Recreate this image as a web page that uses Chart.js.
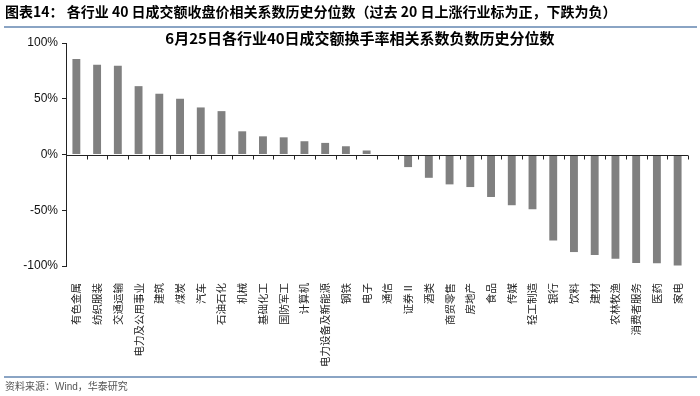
<!DOCTYPE html>
<html>
<head>
<meta charset="utf-8">
<script src="https://cdn.jsdelivr.net/npm/chart.js@4.4.1/dist/chart.umd.min.js"></script>
<style>
  html, body { margin:0; padding:0; background:#fff; }
  #wrap { position:relative; width:700px; height:396px; overflow:hidden; }
  #c { position:absolute; left:0; top:0; }
  .hdr { position:absolute; left:5px; top:2px; font-family:"Noto Sans CJK SC","Liberation Sans",sans-serif; font-weight:bold; font-size:14px; color:#000; white-space:nowrap; line-height:18px; }
  .line { position:absolute; left:4px; width:693px; height:2px; background:#8aa4c4; }
  .ttl { position:absolute; left:0; width:720px; top:29px; text-align:center; font-family:"Noto Sans CJK SC",sans-serif; font-weight:bold; font-size:15px; line-height:18px; color:#000; white-space:nowrap; }
  .src { position:absolute; left:5px; top:379px; font-family:"Noto Sans CJK SC","Liberation Sans",sans-serif; font-size:10px; color:#555; line-height:14px; white-space:nowrap; }
</style>
</head>
<body>
<div id="wrap">
  <canvas id="c" width="700" height="396"></canvas>
  <div class="hdr">图表14：&nbsp;各行业 40 日成交额收盘价相关系数历史分位数（过去 20 日上涨行业标为正，下跌为负）</div>
  <div class="line" style="top:26px"></div>
  <div class="ttl">6月25日各行业40日成交额换手率相关系数负数历史分位数</div>
  <div class="line" style="top:376px"></div>
  <div class="src">资料来源：<span style="font-family:'Liberation Sans',sans-serif">Wind</span>，华泰研究</div>
</div>
<script>
const categories = ["有色金属","纺织服装","交通运输","电力及公用事业","建筑","煤炭","汽车","石油石化","机械","基础化工","国防军工","计算机","电力设备及新能源","钢铁","电子","通信","证券Ⅱ","酒类","商贸零售","房地产","食品","传媒","轻工制造","银行","饮料","建材","农林牧渔","消费者服务","医药","家电"];
const percentiles = [85.7,80.4,79.7,61.3,54.5,50,42.2,38.9,20.8,16.3,15.4,11.9,10.4,7.4,3.6,0,-11.3,-20.9,-26.8,-29.2,-38.1,-45.5,-49.1,-77.1,-87.5,-90.2,-93.6,-97.2,-97.5,-99.6];
const yTicks = [-100,-50,0,50,100];

const zeroAxis = {
  id:'zeroAxis',
  afterDatasetsDraw(chart){
    const {ctx, chartArea, scales} = chart;
    const y0 = Math.round(scales.y.getPixelForValue(0)) + 0.5;
    ctx.save();
    ctx.strokeStyle = '#222';
    ctx.lineWidth = 1;
    ctx.beginPath();
    ctx.moveTo(chartArea.left, y0);
    ctx.lineTo(chartArea.right, y0);
    const n = categories.length;
    const step = (chartArea.right - chartArea.left) / n;
    for (let i = 1; i <= n; i++) {
      const x = Math.round(chartArea.left + i*step) + 0.5;
      ctx.moveTo(x, y0);
      ctx.lineTo(x, y0 + 4);
    }
    ctx.stroke();
    ctx.restore();
  }
};

new Chart(document.getElementById('c'), {
  type:'bar',
  data:{
    labels: categories,
    datasets:[{ data: percentiles, backgroundColor:'#808080', borderWidth:0, barPercentage:0.38, categoryPercentage:1 }]
  },
  options:{
    responsive:false,
    animation:false,
    devicePixelRatio:1,
    layout:{ padding:{ left:0, right:12, top:43, bottom:30 } },
    plugins:{ legend:{display:false}, title:{display:false}, tooltip:{enabled:false} },
    scales:{
      x:{
        grid:{ display:false },
        border:{ display:false },
        afterFit(s){ s.height = 100; },
        ticks:{ autoSkip:false, minRotation:90, maxRotation:90, padding:9, color:'#222',
          font:{ family:'"Noto Sans CJK SC", sans-serif', size:10.5 } }
      },
      y:{
        min:-100, max:100,
        afterFit(s){ s.width = 66; },
        afterBuildTicks(s){ s.ticks = yTicks.map(v => ({value:v})); },
        grid:{ drawOnChartArea:false, drawTicks:true, tickLength:4, color:'#222' },
        border:{ display:true, color:'#222', width:1 },
        ticks:{ padding:4, color:'#111', font:{ family:'"Liberation Sans", Arial, sans-serif', size:12 },
          callback:v => v + '%' }
      }
    }
  },
  plugins:[zeroAxis]
});
</script>
</body>
</html>
